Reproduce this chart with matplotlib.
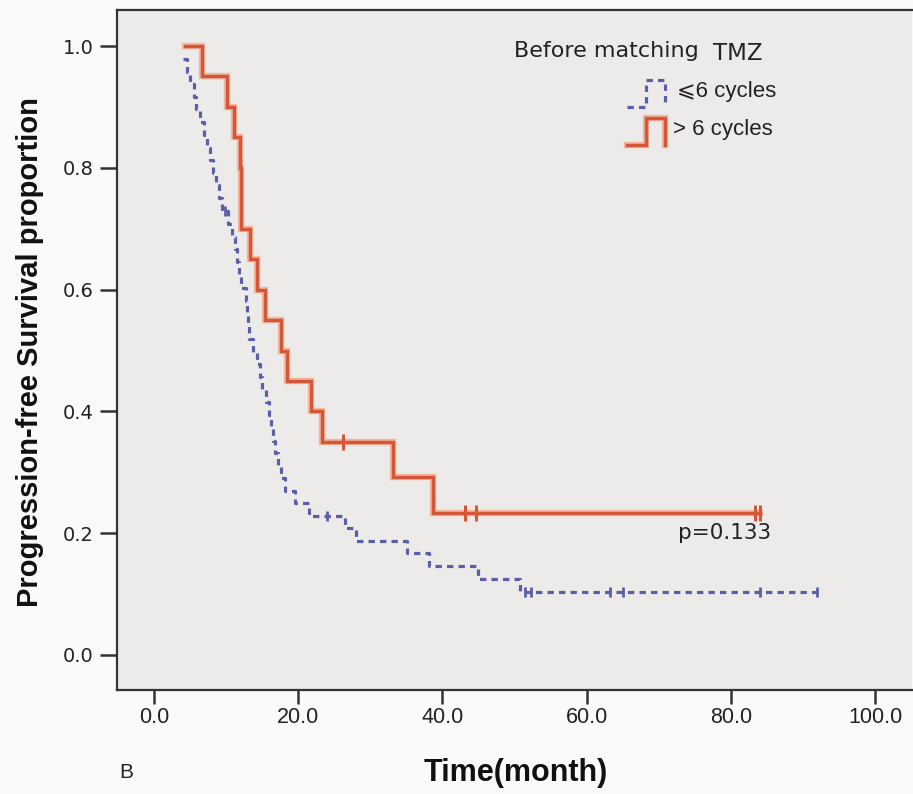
import numpy as np
import matplotlib.pyplot as plt

# (months, survival proportion)
red_times = [4.3, 6.7, 10.1, 11.1, 11.9, 12.1, 13.3, 14.3, 15.4, 17.6, 18.4, 21.8, 23.3, 33.1, 38.7]
red_surv = [1.0, 0.95, 0.90, 0.85, 0.80, 0.70, 0.65, 0.60, 0.55, 0.50, 0.45, 0.40, 0.35, 0.292, 0.233]
red_end = 84.0
red_censor = [26.2, 43.1, 44.7, 83.4, 84.0]

blue_times = [4.0, 4.6, 5.0, 5.5, 5.8, 6.4, 6.9, 7.4, 7.8, 8.2,
              8.6, 9.0, 9.5, 10.2, 10.8, 11.2, 11.5, 11.8, 12.0, 12.7,
              12.9, 13.0, 13.2, 13.8, 14.3, 14.7, 15.0, 15.5, 15.9, 16.2,
              16.5, 16.8, 17.2, 17.6, 18.2, 19.5, 21.5, 26.5, 28.0, 35.1,
              38.2, 44.9, 50.8]
blue_surv = [0.979, 0.958, 0.938, 0.917, 0.896, 0.875, 0.854, 0.833, 0.813, 0.792,
             0.771, 0.750, 0.729, 0.708, 0.687, 0.666, 0.645, 0.624, 0.603, 0.582,
             0.561, 0.540, 0.519, 0.498, 0.478, 0.457, 0.436, 0.415, 0.394, 0.373,
             0.352, 0.331, 0.311, 0.290, 0.269, 0.250, 0.229, 0.208, 0.187, 0.167,
             0.146, 0.125, 0.104]
blue_end = 92.0
blue_censor = [9.8, 24.0, 51.5, 52.3, 63.3, 65.0, 84.0, 92.0]

x_ticks = [0, 20, 40, 60, 80, 100]
y_ticks = [0.0, 0.2, 0.4, 0.6, 0.8, 1.0]

RED = '#d4573a'
RED_HALO = '#f4b7a0'
BLUE = '#5b5ea8'
NARROW = ['Liberation Sans Narrow', 'Liberation Sans', 'DejaVu Sans']


def surv_at(times, surv, t):
    # level of the step curve at time t
    i = np.searchsorted(times, t, side='right') - 1
    return surv[max(i, 0)]


W, H = 913, 794
fig = plt.figure(figsize=(W / 100, H / 100), dpi=100, facecolor='#fafafa')
ax = fig.add_axes([117 / W, 1 - 690 / H, (912 - 117) / W, 680 / H], facecolor='#ecebe9')

x0, pxm = 154, 7.21   # pixel of x=0, pixels per month
ax.set_xlim((117 - x0) / pxm, (912 - x0) / pxm)
ax.set_ylim(-35 / 609, 1 + 36 / 609)

# red group (> 6 cycles)
rx = red_times + [red_end]
ry = red_surv + [red_surv[-1]]
ax.step(rx, ry, where='post', color=RED_HALO, lw=4.6, solid_joinstyle='miter', zorder=2)
ax.step(rx, ry, where='post', color=RED, lw=2.5, solid_joinstyle='miter', zorder=3)
rc = [surv_at(red_times, red_surv, t) for t in red_censor]
ax.plot(red_censor, rc, ls='none', marker='|', ms=11, mew=2.2, color=RED, zorder=4)

# blue group (<= 6 cycles)
bx = blue_times + [blue_end]
by = blue_surv + [blue_surv[-1]]
ax.step(bx, by, where='post', color=BLUE, lw=2.3, dashes=(2.0, 1.6), zorder=3)
bc = [surv_at(blue_times, blue_surv, t) for t in blue_censor]
ax.plot(blue_censor, bc, ls='none', marker='|', ms=7, mew=2.0, color=BLUE, zorder=4)

# axes styling
for s in ['left', 'bottom', 'top']:
    ax.spines[s].set_linewidth(1.6)
    ax.spines[s].set_color('#333333')
ax.spines['right'].set_visible(False)
ax.set_xticks(x_ticks)
ax.set_xticklabels(['{:.1f}'.format(v) for v in x_ticks], fontsize=15.5, family=NARROW)
ax.set_yticks(y_ticks)
ax.set_yticklabels(['{:.1f}'.format(v) for v in y_ticks], fontsize=14, family='DejaVu Sans')
ax.tick_params(axis='both', direction='out', width=1.8, color='#333333', labelcolor='#222222')
ax.tick_params(axis='y', length=12, pad=5)
ax.tick_params(axis='x', length=10, pad=2)

# legend drawn by hand, as in the source chart
tr = ax.transAxes
def px(xp, yp):
    return ((xp - 117) / 795, (690 - yp) / 680)

gx = [627, 646, 646, 665, 665]
gb = [107, 107, 80, 80, 107]
gr = [145, 145, 118, 118, 145]
p = [px(a, b) for a, b in zip(gx, gb)]
ax.plot([q[0] for q in p], [q[1] for q in p], transform=tr, color=BLUE, lw=2.3, dashes=(2.0, 1.6), clip_on=False)
p = [px(a, b) for a, b in zip(gx, gr)]
ax.plot([q[0] for q in p], [q[1] for q in p], transform=tr, color=RED_HALO, lw=4.6, clip_on=False, solid_joinstyle='miter')
ax.plot([q[0] for q in p], [q[1] for q in p], transform=tr, color=RED, lw=2.5, clip_on=False, solid_joinstyle='miter')

fig.text(514 / W, 1 - 51 / H, 'Before matching', fontsize=16, family='DejaVu Sans', color='#222222', va='center', ha='left')
fig.text(713 / W, 1 - 54 / H, 'TMZ', fontsize=16.5, family='DejaVu Sans', color='#222222', va='center', ha='left')
fig.text(677 / W, 1 - 92 / H, '\u2a7d6 cycles', fontsize=16, family=['Liberation Sans', 'DejaVu Sans'], color='#222222', va='center', ha='left')
fig.text(673 / W, 1 - 130 / H, '> 6 cycles', fontsize=16, family=['Liberation Sans', 'DejaVu Sans'], color='#222222', va='center', ha='left')
fig.text(678 / W, 1 - 533 / H, 'p=0.133', fontsize=15.5, family='DejaVu Sans', color='#222222', va='center', ha='left')

fig.text(516 / W, 1 - 773 / H, 'Time(month)', fontsize=22, family=NARROW, fontweight='bold', color='#111111', ha='center', va='center')
fig.text(30 / W, 1 - 352 / H, 'Progression-free Survival proportion', fontsize=21, family=NARROW, fontweight='bold',
         color='#111111', rotation=90, ha='center', va='center')
fig.text(119 / W, 1 - 773 / H, 'B', fontsize=15, family=['Liberation Sans', 'DejaVu Sans'], color='#222222', ha='left', va='center')

fig.savefig('out.png', dpi=100, facecolor=fig.get_facecolor())
